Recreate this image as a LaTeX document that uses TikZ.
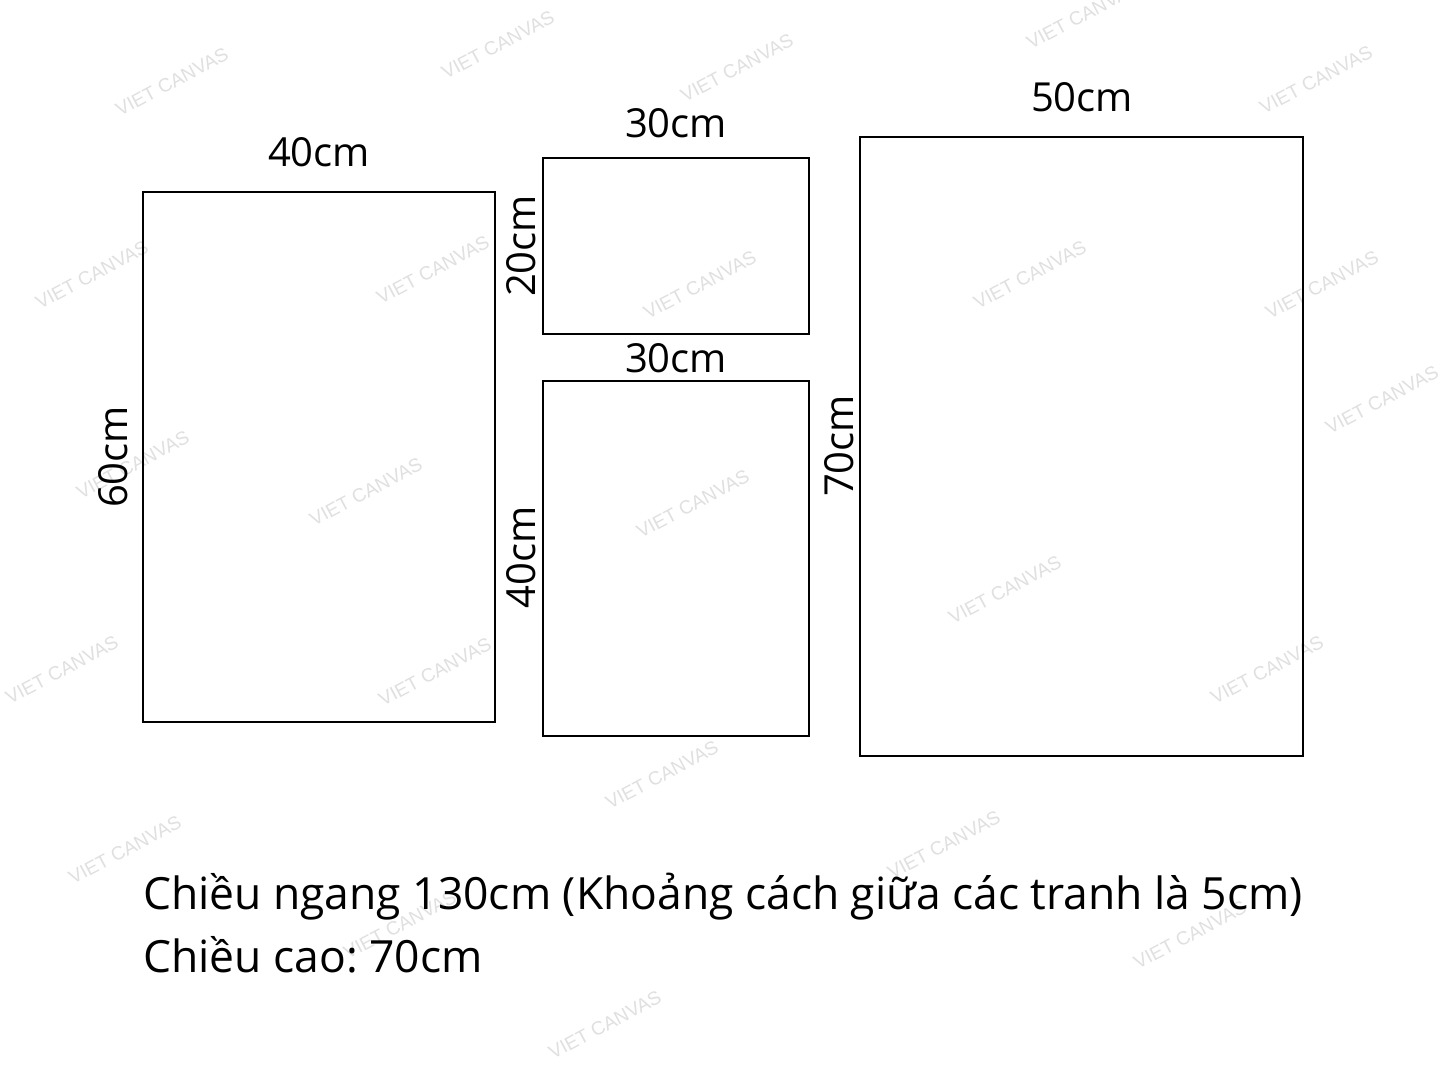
\documentclass[tikz,border=0pt]{standalone}
\usepackage{fontspec}
\setmainfont{Open Sans}
\newfontfamily\wmfont{Liberation Sans}
\frenchspacing
\begin{document}
\begin{tikzpicture}[x=1pt,y=-1pt,
  panel/.style={draw=black,line width=2pt},
  dim/.style={font=\fontsize{40}{48}\selectfont,inner sep=0pt},
  note/.style={font=\fontsize{44.4}{52}\selectfont,inner sep=0pt,anchor=west},
  wm/.style={font=\wmfont\fontsize{19}{22}\selectfont,text=black!12,rotate=28,inner sep=0pt}]
\useasboundingbox (0,0) rectangle (1445,1083);
\fill[white] (0,0) rectangle (1445,1083);
% watermarks
\foreach \x/\y in {172/82,498/45,737/68,1083/15,1316/80,92/275,433/270,700/285,1030/275,1322/285,1382/400,133/465,366/492,693/504,1005/590,435/672,62/670,1267/670,662/775,125/850,944/845,1190/935,400/925,605/1025}
  \node[wm] at (\x,\y) {VIET CANVAS};
% panels
\draw[panel] (143,192) rectangle (495,722);
\draw[panel] (543,158) rectangle (809,334);
\draw[panel] (543,381) rectangle (809,736);
\draw[panel] (860,137) rectangle (1303,756);
% dimension labels
\node[dim] (w1) at (319,152) {40cm};
\node[dim] (w2) at (676,123) {30cm};
\node[dim] (w3) at (676,358) {30cm};
\node[dim] (w4) at (1082,97) {50cm};
\node[dim,rotate=90] (h1) at (113,457) {60cm};
\node[dim,rotate=90] (h2) at (521,246) {20cm};
\node[dim,rotate=90] (h3) at (521,557) {40cm};
\node[dim,rotate=90] (h4) at (839,446) {70cm};
% notes
\node[note] (n1) at (143,897) {Chiều ngang 130cm (Khoảng cách giữa các tranh là 5cm)};
\node[note] (n2) at (143,955) {Chiều cao: 70cm};
\end{tikzpicture}
\end{document}
